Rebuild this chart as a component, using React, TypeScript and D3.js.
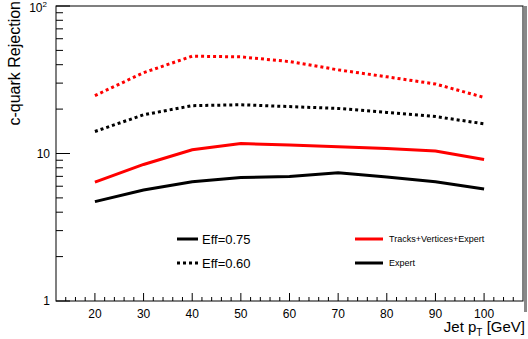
import React from "react";
import * as d3 from "d3";

const ptBins = [20, 30, 40, 50, 60, 70, 80, 90, 100];
const tveEff060 = [24.7, 35.3, 45.7, 45.2, 42.0, 36.9, 33.1, 29.6, 24.0];
const expertEff060 = [14.1, 18.3, 21.1, 21.4, 20.8, 20.2, 19.0, 17.8, 15.9];
const tveEff075 = [6.4, 8.43, 10.6, 11.7, 11.4, 11.1, 10.8, 10.4, 9.1];
const expertEff075 = [4.72, 5.65, 6.44, 6.88, 6.99, 7.41, 6.92, 6.44, 5.74];
const xMajorTicks = [20, 30, 40, 50, 60, 70, 80, 90, 100];

const series = [
  { name: "tve060", values: tveEff060, color: "#ff0000", dotted: true },
  { name: "exp060", values: expertEff060, color: "#000000", dotted: true },
  { name: "tve075", values: tveEff075, color: "#ff0000", dotted: false },
  { name: "exp075", values: expertEff075, color: "#000000", dotted: false },
];

export default function App() {
  const W = 528, H = 339;
  const L = 56, R = 523, T = 6, B = 301;
  const x = d3.scaleLinear().domain([12, 108]).range([L, R]);
  const y = d3.scaleLog().domain([1, 100]).range([B, T]);
  const line = d3
    .line<[number, number]>()
    .x((d) => x(d[0]))
    .y((d) => y(d[1]));

  const xMinor = d3.range(14, 108, 2).filter((v) => v % 10 !== 0);
  const yMinor: number[] = [];
  [1, 10].forEach((dec) => {
    for (let k = 2; k <= 9; k++) yMinor.push(dec * k);
  });
  const font = "'Liberation Sans', Arial, Helvetica, sans-serif";

  return (
    <svg
      width={W}
      height={H}
      style={{ position: "absolute", left: 0, top: 0, background: "#fff" }}
      fontFamily={font}
    >
      <rect x={0} y={0} width={W} height={H} fill="#fff" />
      {/* grey canvas edge */}
      <line x1={525.5} x2={525.5} y1={6} y2={312} stroke="#888" strokeWidth={3} />
      {/* frame */}
      <rect x={L} y={T} width={R - L} height={B - T} fill="none" stroke="#000" strokeWidth={1} />
      {/* x ticks */}
      {xMajorTicks.map((t) => (
        <g key={"xm" + t}>
          <line x1={x(t)} x2={x(t)} y1={B} y2={B - 8} stroke="#000" />
          <text x={x(t)} y={B + 17} fontSize={12} textAnchor="middle" fill="#000">
            {t}
          </text>
        </g>
      ))}
      {xMinor.map((t) => (
        <line key={"xn" + t} x1={x(t)} x2={x(t)} y1={B} y2={B - 4} stroke="#000" />
      ))}
      {/* y ticks */}
      {[1, 10, 100].map((t) => (
        <line key={"ym" + t} x1={L} x2={L + 14} y1={y(t)} y2={y(t)} stroke="#000" />
      ))}
      {yMinor.map((t) => (
        <line key={"yn" + t} x1={L} x2={L + 7} y1={y(t)} y2={y(t)} stroke="#000" />
      ))}
      <text x={50} y={y(1) + 4} fontSize={12} textAnchor="end" fill="#000">1</text>
      <text x={50} y={y(10) + 4} fontSize={12} textAnchor="end" fill="#000">10</text>
      <text x={47} y={y(100) + 6} fontSize={12} textAnchor="end" fill="#000">
        10
        <tspan fontSize={8} dy={-5}>2</tspan>
      </text>
      {/* axis titles */}
      <text
        transform={`translate(20,1) rotate(-90)`}
        fontSize={16}
        textAnchor="end"
        fill="#000"
      >
        c-quark Rejection
      </text>
      <text x={525} y={332} fontSize={15} textAnchor="end" fill="#000">
        Jet p
        <tspan fontSize={10} dy={4}>T</tspan>
        <tspan dy={-4}> [GeV]</tspan>
      </text>
      {/* series */}
      {series.map((s) => (
        <path
          key={s.name}
          d={line(ptBins.map((p, i) => [p, s.values[i]] as [number, number])) || ""}
          fill="none"
          stroke={s.color}
          strokeWidth={3}
          strokeDasharray={s.dotted ? "3,3" : undefined}
        />
      ))}
      {/* legend left */}
      <line x1={177} x2={198} y1={239} y2={239} stroke="#000" strokeWidth={3} />
      <text x={202} y={244} fontSize={13} fill="#000">Eff=0.75</text>
      <line x1={177} x2={198} y1={263} y2={263} stroke="#000" strokeWidth={3} strokeDasharray="3,3" />
      <text x={202} y={268} fontSize={13} fill="#000">Eff=0.60</text>
      {/* legend right */}
      <line x1={355} x2={383} y1={239} y2={239} stroke="#ff0000" strokeWidth={3} />
      <text x={389} y={242} fontSize={9} fill="#000">Tracks+Vertices+Expert</text>
      <line x1={355} x2={383} y1={263} y2={263} stroke="#000" strokeWidth={3} />
      <text x={389} y={266} fontSize={9} fill="#000">Expert</text>
    </svg>
  );
}
